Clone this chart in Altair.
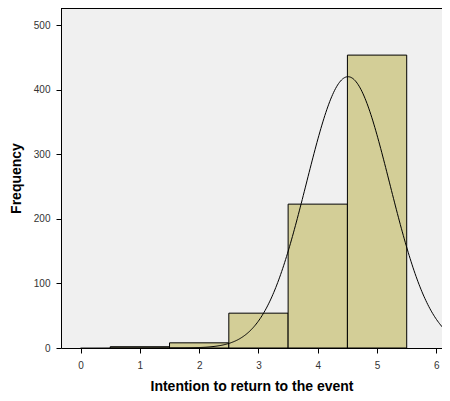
import altair as alt
import numpy as np
import pandas as pd

# Histogram bins (value centres) and frequencies
bin_centers = [0, 1, 2, 3, 4, 5]
frequencies = [0, 2, 8, 54, 223, 454]

# Normal-curve parameters (fitted to the histogram)
curve_mean = 4.51
curve_sd = 0.703
curve_n = 741
bin_width = 1.0

x_ticks = [0, 1, 2, 3, 4, 5, 6]
y_ticks = [0, 100, 200, 300, 400, 500]

bars = pd.DataFrame({
    "start": [c - 0.5 for c in bin_centers],
    "end": [c + 0.5 for c in bin_centers],
    "freq": frequencies,
})
bars = bars[bars["freq"] > 0]

xs = np.linspace(0.0, 6.6, 400)
curve = pd.DataFrame({
    "x": xs,
    "y": curve_n * bin_width / (curve_sd * np.sqrt(2 * np.pi))
         * np.exp(-0.5 * ((xs - curve_mean) / curve_sd) ** 2),
})

W, H = 381, 340
xscale = alt.Scale(domain=[-0.33, 6.095], nice=False, zero=False)
yscale = alt.Scale(domain=[0, 527], nice=False)

xaxis = alt.Axis(values=x_ticks, title="Intention to return to the event", grid=False,
                 tickSize=5, labelPadding=7, titlePadding=9, domainColor="black",
                 tickColor="black", format="d")
yaxis = alt.Axis(values=y_ticks, title="Frequency", grid=False, tickSize=5,
                 labelPadding=6, titlePadding=10, domainColor="black", tickColor="black")

hist = alt.Chart(bars).mark_rect(fill="#d3ce97", stroke="black", strokeWidth=1).encode(
    x=alt.X("start:Q", scale=xscale, axis=xaxis),
    x2="end:Q",
    y=alt.Y("freq:Q", scale=yscale, axis=yaxis),
    y2=alt.datum(0),
)

line = alt.Chart(curve).mark_line(color="black", strokeWidth=1, clip=True).encode(
    x=alt.X("x:Q", scale=xscale),
    y=alt.Y("y:Q", scale=yscale),
)

top = alt.Chart(pd.DataFrame({"a": [0]})).mark_rule(color="black", strokeWidth=1).encode(
    y=alt.value(0.5), x=alt.value(0), x2=alt.value(W),
)

chart = alt.layer(hist, line, top).properties(
    width=W, height=H,
    autosize=alt.AutoSizeParams(type="none"),
    padding={"left": 53, "top": 0, "right": 0, "bottom": 45},
).configure_view(
    fill="#f0f0f0", stroke=None,
).configure_axis(
    labelFont="Liberation Sans", titleFont="Liberation Sans",
    labelFontSize=10, titleFontSize=14, titleFontWeight="bold",
    labelColor="#333333", titleColor="black", domainWidth=1, tickWidth=1,
)

chart.save("out.html", embed_options={"renderer": "svg", "actions": False})
